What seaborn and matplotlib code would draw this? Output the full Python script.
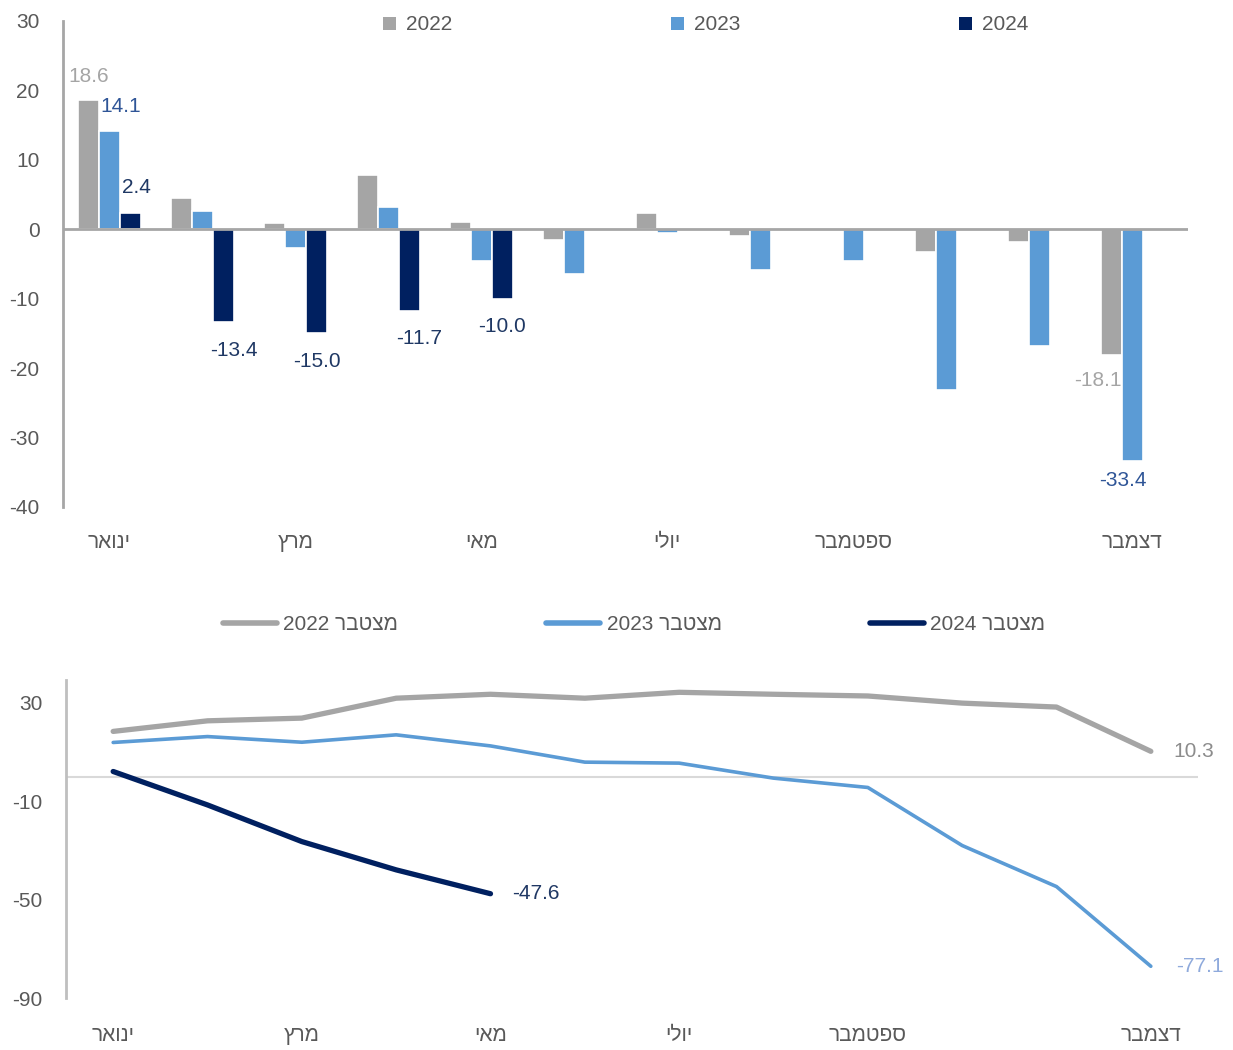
import re
import numpy as np
import pandas as pd
import matplotlib
matplotlib.use("Agg")
import matplotlib.pyplot as plt
from matplotlib.lines import Line2D
from matplotlib.patches import Patch
import seaborn as sns

# data
months = ["ינואר", "פברואר", "מרץ", "אפריל", "מאי", "יוני",
          "יולי", "אוגוסט", "ספטמבר", "אוקטובר", "נובמבר", "דצמבר"]
tick_idx = [0, 2, 4, 6, 8, 11]
years = ["2022", "2023", "2024"]

monthly_2022 = [18.6, 4.5, 0.9, 7.8, 1.1, -1.6, 2.4, -1.0, 0.0, -3.3, -1.8, -18.1]
monthly_2023 = [14.1, 2.6, -2.7, 3.2, -4.6, -6.4, -0.6, -5.9, -4.6, -23.1, -16.8, -33.4]
monthly_2024 = [2.4, -13.4, -15.0, -11.7, -10.0]

cum_2022 = [18.4, 22.7, 23.8, 31.9, 33.5, 31.9, 34.3, 33.5, 32.8, 29.9, 28.3, 10.3]
cum_2023 = [13.9, 16.3, 14.0, 17.0, 12.5, 5.9, 5.5, -0.6, -4.4, -28.0, -44.7, -77.1]
cum_2024 = [2.1, -11.5, -26.4, -37.9, -47.6]

cum_label = "מצטבר"

colors = {"2022": "#A5A5A5", "2023": "#5B9BD5", "2024": "#002060"}


def rtl(s):
    # matplotlib has no bidi, so flip hebrew for display and keep numbers in order
    r = s[::-1]
    return re.sub(r"\d+", lambda m: m.group(0)[::-1], r)


def pad(vals):
    return list(vals) + [np.nan] * (12 - len(vals))


sns.set_theme(style="white")
plt.rcParams["font.family"] = ["Liberation Sans Narrow", "Liberation Sans", "DejaVu Sans"]
plt.rcParams["axes.unicode_minus"] = False
tick_color = "#595959"

fig = plt.figure(figsize=(12.33, 10.5), dpi=100)
ax1 = fig.add_axes([63 / 1233, 1 - 507 / 1050, (1188 - 63) / 1233, 486 / 1050])
ax2 = fig.add_axes([66 / 1233, 1 - 998 / 1050, (1198 - 66) / 1233, 318 / 1050])

# ---- top: monthly bars
bars = pd.DataFrame({
    "month": months * 3,
    "year": [y for y in years for _ in months],
    "value": monthly_2022 + monthly_2023 + pad(monthly_2024),
})
sns.barplot(data=bars, x="month", y="value", hue="year", order=months,
            hue_order=years, palette=colors, width=0.68, edgecolor="white",
            linewidth=1.2, saturation=1, legend=False, ax=ax1)

ax1.axhline(0, color="#A6A6A6", lw=2, zorder=3)
ax1.set_ylim(-40, 30)
ax1.set_xlim(-0.5, 11.6)
ax1.set_yticks(range(-40, 31, 10))
ax1.set_xticks(tick_idx)
ax1.set_xticklabels([rtl(months[i]) for i in tick_idx])
ax1.set_xlabel("")
ax1.set_ylabel("")
ax1.tick_params(axis="y", length=0, pad=17, labelsize=15, labelcolor=tick_color)
ax1.tick_params(axis="x", length=0, pad=19, labelsize=15, labelcolor=tick_color)
for side in ["top", "right", "bottom"]:
    ax1.spines[side].set_visible(False)
ax1.spines["left"].set_color("#A6A6A6")
ax1.spines["left"].set_linewidth(2)

bw = 0.68 / 3
px = 0.72  # points per pixel at dpi 100


def bar_label(i, k, val, dx, dy, color, ha="center"):
    x = i + (k - 1) * bw
    ax1.annotate(f"{val:.1f}", (x, val), xytext=(dx * px, dy * px),
                 textcoords="offset points", ha=ha, va="center",
                 fontsize=15, color=color)


bar_label(0, 0, monthly_2022[0], 0, 24, "#A5A5A5")
bar_label(0, 1, monthly_2023[0], -9, 25, "#2F5597", ha="left")
bar_label(0, 2, monthly_2024[0], -9, 25, "#1F3864", ha="left")
for i, dx in zip(range(1, 5), [10, 0, 10, 0]):
    bar_label(i, 2, monthly_2024[i], dx, -28, "#1F3864")
bar_label(11, 0, monthly_2022[11], 10, -26, "#A5A5A5", ha="right")
bar_label(11, 1, monthly_2023[11], -9, -19, "#2F5597")

handles = [Patch(facecolor=colors[y], edgecolor="none", label=y) for y in years]
fig.legend(handles=handles, loc="center", bbox_to_anchor=(706 / 1233, 1 - 25 / 1050),
           ncol=3, frameon=False, fontsize=15, handlelength=0.6, handleheight=0.6,
           handletextpad=0.5, columnspacing=10.5, labelcolor=tick_color)

# ---- bottom: cumulative lines
x = np.arange(12)
series = [("2022", cum_2022, 3.8), ("2023", cum_2023, 2.6), ("2024", cum_2024, 3.8)]
for y, vals, lw in series:
    sns.lineplot(x=x[:len(vals)], y=vals, color=colors[y], lw=lw, ax=ax2,
                 solid_capstyle="round")

ax2.axhline(0, color="#D9D9D9", lw=1.5, zorder=0.5)
ax2.set_ylim(-90, 39.3)
ax2.set_xlim(-0.5, 11.5)
ax2.set_yticks([30, -10, -50, -90])
ax2.set_xticks(tick_idx)
ax2.set_xticklabels([rtl(months[i]) for i in tick_idx])
ax2.tick_params(axis="y", length=0, pad=17, labelsize=15, labelcolor=tick_color)
ax2.tick_params(axis="x", length=0, pad=20, labelsize=15, labelcolor=tick_color)
for side in ["top", "right", "bottom"]:
    ax2.spines[side].set_visible(False)
ax2.spines["left"].set_color("#BFBFBF")
ax2.spines["left"].set_linewidth(2)

ax2.annotate(f"{cum_2024[-1]:.1f}", (len(cum_2024) - 1, cum_2024[-1]), xytext=(22 * px, 0),
             textcoords="offset points", ha="left", va="center", fontsize=15, color="#203864")
ax2.annotate(f"{cum_2022[-1]:.1f}", (11, cum_2022[-1]), xytext=(23 * px, 0),
             textcoords="offset points", ha="left", va="center", fontsize=15, color="#8C8C8C")
ax2.annotate(f"{cum_2023[-1]:.1f}", (11, cum_2023[-1]), xytext=(25 * px, 0),
             textcoords="offset points", ha="left", va="center", fontsize=15, color="#8FAADC")

line_handles = [Line2D([0], [0], color=colors[y], lw=4, solid_capstyle="round",
                       label=rtl(f"{cum_label} {y}")) for y in years]
fig.legend(handles=line_handles, loc="center", bbox_to_anchor=(634 / 1233, 1 - 625 / 1050),
           ncol=3, frameon=False, fontsize=15, handlelength=2.6, handletextpad=0.3,
           columnspacing=7.1, labelcolor=tick_color)

fig.savefig("out.png", dpi=100)
